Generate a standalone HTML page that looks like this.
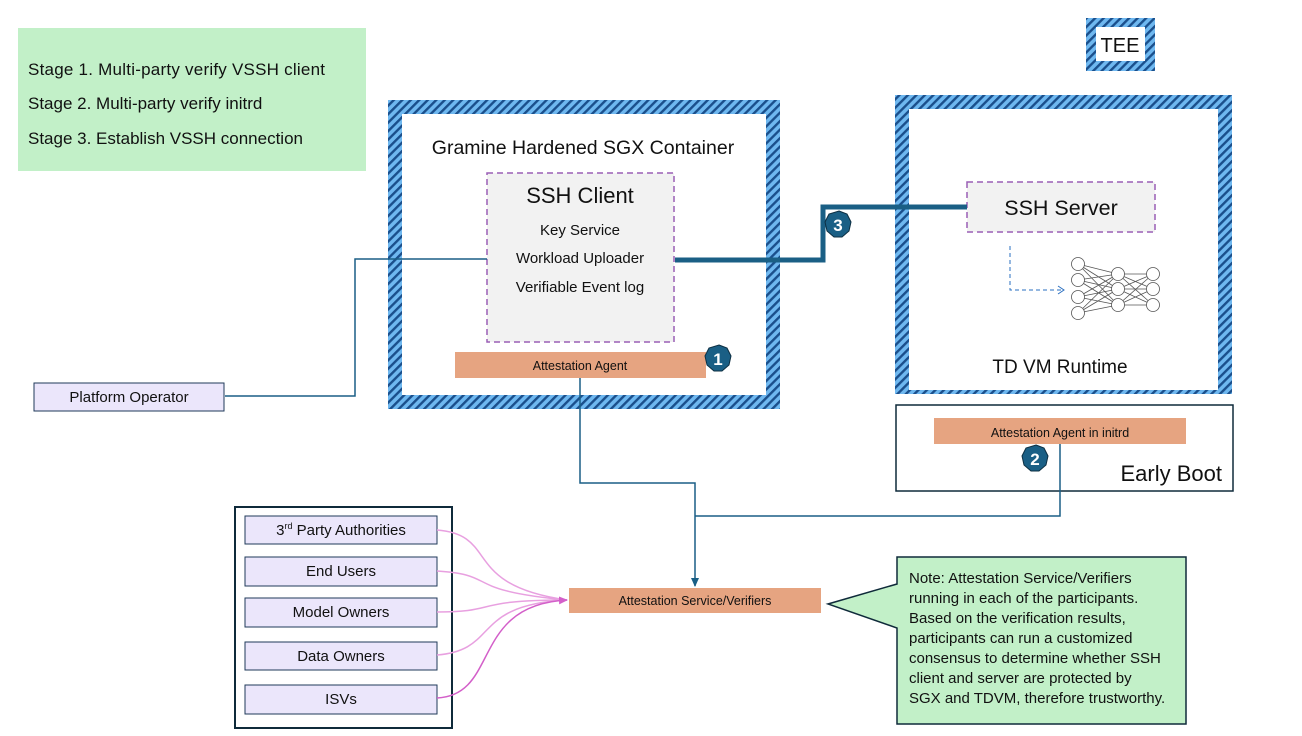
<!DOCTYPE html>
<html><head><meta charset="utf-8"><style>
html,body{margin:0;padding:0;background:#fff;}
svg{display:block;font-family:"Liberation Sans",sans-serif;}
</style></head><body>
<svg width="1302" height="736" viewBox="0 0 1302 736" xmlns="http://www.w3.org/2000/svg">
<defs>
<pattern id="h" width="6" height="6" patternUnits="userSpaceOnUse" patternTransform="rotate(45)">
<rect width="6" height="6" fill="#6fb8f0"/><rect width="2.4" height="6" fill="#1a4f8c"/>
</pattern>
<marker id="ab" markerWidth="10" markerHeight="10" refX="8" refY="5" orient="auto" markerUnits="userSpaceOnUse"><path d="M0,1 L9,5 L0,9 Z" fill="#1a5f85"/></marker>
<marker id="ap" markerWidth="10" markerHeight="10" refX="8" refY="5" orient="auto" markerUnits="userSpaceOnUse"><path d="M0,1 L9,5 L0,9 Z" fill="#d35fc9"/></marker>
</defs>

<rect x="18" y="28" width="348" height="143" fill="#c2f0c8"/>
<g font-size="17" fill="#111">
<text x="28" y="75" textLength="297">Stage 1. Multi-party verify VSSH client</text>
<text x="28" y="109">Stage 2. Multi-party verify initrd</text>
<text x="28" y="144">Stage 3. Establish VSSH connection</text>
</g>

<rect x="1086" y="18" width="69" height="53" fill="url(#h)"/>
<rect x="1096" y="27" width="49" height="34" fill="#fff"/>
<text x="1120" y="52" font-size="20" text-anchor="middle" fill="#111">TEE</text>

<rect x="388" y="100" width="392" height="309" fill="url(#h)"/>
<rect x="402" y="114" width="364" height="281" fill="#fff"/>
<text x="583" y="154" font-size="19.5" text-anchor="middle" fill="#111">Gramine Hardened SGX Container</text>
<rect x="487" y="173" width="187" height="169" fill="#f2f2f2" stroke="#9a5fb5" stroke-width="1.5" stroke-dasharray="6,4"/>
<text x="580" y="203" font-size="22" text-anchor="middle" fill="#111">SSH Client</text>
<g font-size="15" text-anchor="middle" fill="#111">
<text x="580" y="235">Key Service</text>
<text x="580" y="263">Workload Uploader</text>
<text x="580" y="292">Verifiable Event log</text>
</g>
<rect x="455" y="352" width="251" height="26" fill="#e6a481"/>
<text x="580" y="370" font-size="12.5" text-anchor="middle" fill="#111">Attestation Agent</text>

<rect x="895" y="95" width="337" height="299" fill="url(#h)"/>
<rect x="909" y="109" width="309" height="281" fill="#fff"/>
<rect x="967" y="182" width="188" height="50" fill="#f2f2f2" stroke="#9a5fb5" stroke-width="1.5" stroke-dasharray="6,4"/>
<text x="1061" y="215" font-size="21.5" text-anchor="middle" fill="#111">SSH Server</text>
<path d="M1010,246 V290 H1063" fill="none" stroke="#2a6fc0" stroke-width="1" stroke-dasharray="4,3"/>
<path d="M1058,286 L1064,290 L1058,294" fill="none" stroke="#2a6fc0" stroke-width="1"/>
<g stroke="#555" stroke-width="0.8" fill="none">
<line x1="1078" y1="264" x2="1118" y2="274"/><line x1="1078" y1="264" x2="1118" y2="289"/><line x1="1078" y1="264" x2="1118" y2="305"/>
<line x1="1078" y1="280" x2="1118" y2="274"/><line x1="1078" y1="280" x2="1118" y2="289"/><line x1="1078" y1="280" x2="1118" y2="305"/>
<line x1="1078" y1="297" x2="1118" y2="274"/><line x1="1078" y1="297" x2="1118" y2="289"/><line x1="1078" y1="297" x2="1118" y2="305"/>
<line x1="1078" y1="313" x2="1118" y2="274"/><line x1="1078" y1="313" x2="1118" y2="289"/><line x1="1078" y1="313" x2="1118" y2="305"/>
<line x1="1118" y1="274" x2="1153" y2="274"/><line x1="1118" y1="274" x2="1153" y2="289"/><line x1="1118" y1="274" x2="1153" y2="305"/>
<line x1="1118" y1="289" x2="1153" y2="274"/><line x1="1118" y1="289" x2="1153" y2="289"/><line x1="1118" y1="289" x2="1153" y2="305"/>
<line x1="1118" y1="305" x2="1153" y2="274"/><line x1="1118" y1="305" x2="1153" y2="289"/><line x1="1118" y1="305" x2="1153" y2="305"/>
<g fill="#fff" stroke="#555">
<circle cx="1078" cy="264" r="6.5"/><circle cx="1078" cy="280" r="6.5"/><circle cx="1078" cy="297" r="6.5"/><circle cx="1078" cy="313" r="6.5"/>
<circle cx="1118" cy="274" r="6.5"/><circle cx="1118" cy="289" r="6.5"/><circle cx="1118" cy="305" r="6.5"/>
<circle cx="1153" cy="274" r="6.5"/><circle cx="1153" cy="289" r="6.5"/><circle cx="1153" cy="305" r="6.5"/>
</g>
</g>
<text x="1060" y="373" font-size="19" text-anchor="middle" fill="#111">TD VM Runtime</text>

<rect x="896" y="405" width="337" height="86" fill="#fff" stroke="#0f2a3a" stroke-width="1.5"/>
<rect x="934" y="418" width="252" height="26" fill="#e6a481"/>
<text x="1060" y="437" font-size="12.5" text-anchor="middle" fill="#111">Attestation Agent in initrd</text>
<text x="1222" y="481" font-size="22" text-anchor="end" fill="#111">Early Boot</text>

<path d="M675,260 H823 V207 H967" fill="none" stroke="#1a5f85" stroke-width="5"/>
<path d="M225,396 H355 V259 H487" fill="none" stroke="#1a5f85" stroke-width="1.5"/>
<path d="M580,378 V483 H695 V586" fill="none" stroke="#1a5f85" stroke-width="1.5" marker-end="url(#ab)"/>
<path d="M1060,444 V516 H695" fill="none" stroke="#1a5f85" stroke-width="1.5"/>

<g font-size="17" font-weight="bold" fill="#fff" text-anchor="middle">
<polygon points="839,211 847,214 851,222 849,231 842,237 834,237 827,231 825,222 829,214" fill="#1a5f85" stroke="#0d2f42"/>
<text x="838" y="231">3</text>
<polygon points="719,345 727,348 731,356 729,365 722,371 714,371 707,365 705,356 709,348" fill="#1a5f85" stroke="#0d2f42"/>
<text x="718" y="365">1</text>
<polygon points="1036,445 1044,448 1048,456 1046,465 1039,471 1031,471 1024,465 1022,456 1026,448" fill="#1a5f85" stroke="#0d2f42"/>
<text x="1035" y="465">2</text>
</g>

<rect x="34" y="383" width="190" height="28" fill="#ebe6fb" stroke="#1f3a5a" stroke-width="1"/>
<text x="129" y="402" font-size="15" text-anchor="middle" fill="#111">Platform Operator</text>

<rect x="235" y="507" width="217" height="221" fill="#fff" stroke="#0f2a3a" stroke-width="2"/>
<g fill="#ebe6fb" stroke="#1f3a5a" stroke-width="1">
<rect x="245" y="516" width="192" height="28"/>
<rect x="245" y="557" width="192" height="29"/>
<rect x="245" y="598" width="192" height="29"/>
<rect x="245" y="642" width="192" height="28"/>
<rect x="245" y="685" width="192" height="29"/>
</g>
<g font-size="15" text-anchor="middle" fill="#111">
<text x="341" y="535">3<tspan font-size="9" dy="-6">rd</tspan><tspan dy="6"> Party Authorities</tspan></text>
<text x="341" y="576">End Users</text>
<text x="341" y="617">Model Owners</text>
<text x="341" y="661">Data Owners</text>
<text x="341" y="704">ISVs</text>
</g>
<g fill="none" stroke="#e8a0e0" stroke-width="1.5">
<path d="M437,530 C500,535 460,585 567,600"/>
<path d="M437,571 C500,575 460,590 567,600"/>
<path d="M437,612 C500,612 470,600 567,600"/>
<path d="M437,655 C500,650 470,605 567,600"/>
</g>
<path d="M437,698 C500,695 470,605 567,600" fill="none" stroke="#d35fc9" stroke-width="1.5" marker-end="url(#ap)"/>

<rect x="569" y="588" width="252" height="25" fill="#e6a481"/>
<text x="695" y="605" font-size="12.5" text-anchor="middle" fill="#111">Attestation Service/Verifiers</text>

<path d="M897,557 H1186 V724 H897 V628 L828,604 L897,584 Z" fill="#c2f0c8" stroke="#0f2a3a" stroke-width="1.5"/>
<g font-size="15" fill="#111">
<text x="909" y="583">Note: Attestation Service/Verifiers</text>
<text x="909" y="603">running in each of the participants.</text>
<text x="909" y="623">Based on the verification results,</text>
<text x="909" y="643">participants can run a customized</text>
<text x="909" y="663">consensus to determine whether SSH</text>
<text x="909" y="683">client and server are protected by</text>
<text x="909" y="703">SGX and TDVM, therefore trustworthy.</text>
</g>
</svg>
</body></html>
